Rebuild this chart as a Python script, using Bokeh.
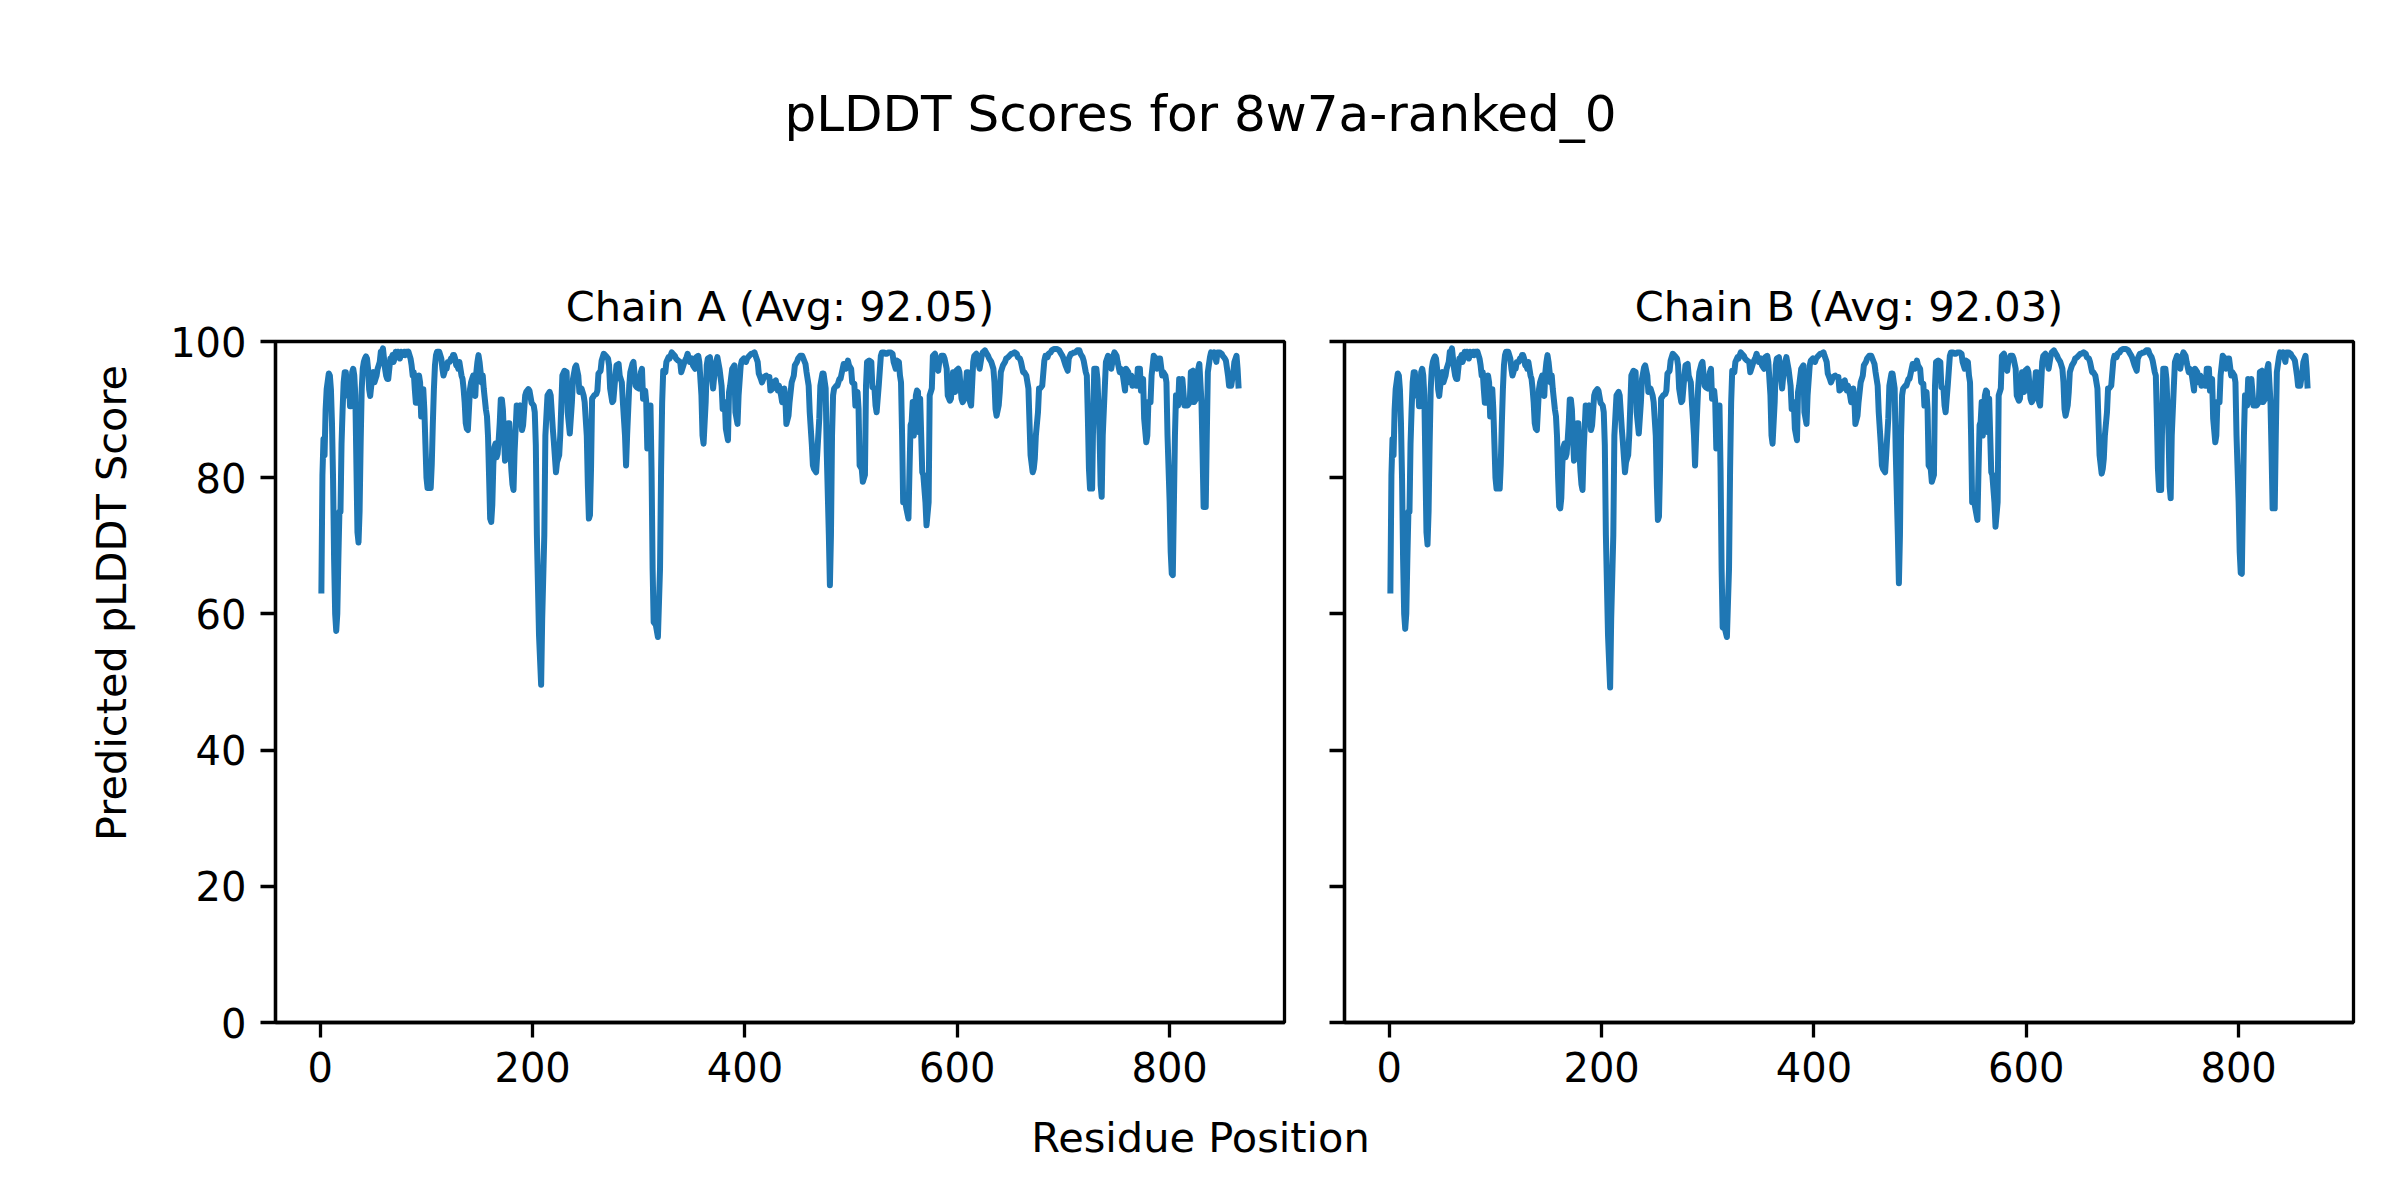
from bokeh.plotting import figure
from bokeh.models import Range1d, FixedTicker, Label, Title
from bokeh.layouts import column, row
from bokeh.embed import file_html
from bokeh.resources import INLINE

FONT = "DejaVu Sans"
BLUE = "#1f77b4"

suptitle_text = "pLDDT Scores for 8w7a-ranked_0"
x_label_text = "Residue Position"
y_label_text = "Predicted pLDDT Score"
chain_names = ["A", "B"]
chain_avgs = [92.05, 92.03]
x_ticks = [0, 200, 400, 600, 800]
y_ticks = [0, 20, 40, 60, 80, 100]

residue_pos = [
    1, 2, 3, 4, 5, 6, 8, 9, 10, 11,
    12, 13, 14, 15, 16, 17, 18, 19, 20, 21,
    22, 23, 24, 25, 26, 27, 28, 29, 30, 31,
    32, 33, 34, 35, 36, 37, 38, 39, 40, 41,
    42, 43, 44, 45, 46, 47, 48, 49, 50, 51,
    52, 53, 54, 55, 56, 57, 58, 59, 60, 61,
    62, 63, 64, 65, 66, 67, 68, 69, 70, 71,
    72, 73, 74, 75, 76, 77, 78, 79, 80, 81,
    82, 83, 84, 85, 86, 87, 88, 89, 90, 91,
    92, 93, 94, 95, 96, 97, 98, 99, 100, 101,
    102, 103, 104, 105, 106, 107, 108, 109, 110, 111,
    112, 113, 114, 115, 116, 117, 118, 119, 120, 121,
    122, 123, 124, 125, 126, 127, 128, 129, 130, 131,
    132, 133, 134, 135, 136, 137, 138, 139, 140, 141,
    142, 143, 144, 145, 146, 147, 148, 149, 150, 151,
    152, 153, 154, 155, 156, 157, 158, 159, 160, 161,
    162, 163, 164, 165, 166, 167, 168, 169, 170, 171,
    172, 173, 174, 175, 176, 177, 178, 179, 180, 181,
    182, 183, 185, 186, 188, 190, 191, 193, 194, 196,
    197, 199, 201, 202, 203, 204, 206, 208, 209, 211,
    212, 214, 216, 217, 219, 220, 222, 223, 225, 226,
    228, 230, 232, 233, 235, 237, 238, 240, 241, 243,
    244, 246, 248, 249, 251, 252, 253, 254, 255, 256,
    258, 260, 261, 262, 264, 265, 267, 269, 271, 272,
    273, 275, 276, 278, 279, 281, 282, 284, 285, 287,
    288, 289, 291, 292, 294, 295, 297, 298, 300, 302,
    303, 304, 306, 307, 308, 310, 311, 312, 313, 314,
    316, 318, 320, 321, 322, 323, 325, 326, 328, 329,
    331, 332, 334, 335, 337, 339, 340, 342, 343, 345,
    346, 348, 350, 351, 353, 354, 356, 357, 359, 360,
    361, 363, 364, 365, 367, 368, 370, 372, 374, 376,
    378, 379, 381, 382, 384, 385, 386, 388, 390, 391,
    393, 394, 396, 397, 399, 401, 402, 404, 406, 407,
    409, 410, 412, 413, 415, 416, 418, 420, 421, 423,
    424, 426, 427, 429, 431, 432, 434, 435, 437, 438,
    439, 441, 442, 444, 446, 447, 449, 450, 452, 454,
    455, 457, 458, 460, 461, 463, 464, 465, 467, 468,
    470, 471, 473, 474, 476, 477, 479, 480, 481, 482,
    483, 484, 486, 487, 489, 490, 492, 493, 495, 497,
    498, 500, 501, 503, 504, 506, 507, 508, 510, 511,
    513, 514, 515, 517, 519, 520, 522, 523, 524, 526,
    528, 529, 531, 532, 534, 535, 537, 539, 540, 542,
    543, 545, 546, 547, 548, 549, 551, 552, 554, 555,
    556, 557, 558, 559, 561, 562, 563, 564, 565, 567,
    568, 570, 571, 573, 574, 576, 577, 579, 580, 582,
    583, 585, 587, 588, 590, 591, 593, 594, 596, 598,
    599, 601, 602, 604, 605, 607, 609, 610, 612, 613,
    615, 616, 618, 619, 621, 623, 624, 626, 627, 629,
    630, 632, 634, 635, 636, 637, 639, 640, 641, 643,
    645, 646, 648, 649, 651, 652, 654, 656, 657, 659,
    660, 662, 663, 665, 667, 668, 669, 671, 672, 673,
    674, 676, 677, 678, 680, 682, 683, 685, 686, 688,
    689, 691, 693, 694, 696, 697, 699, 700, 702, 704,
    705, 707, 708, 710, 711, 713, 715, 716, 718, 719,
    721, 722, 723, 724, 725, 727, 728, 729, 731, 732,
    734, 735, 736, 737, 739, 740, 742, 743, 745, 747,
    748, 750, 751, 753, 754, 756, 758, 759, 761, 762,
    764, 765, 767, 769, 770, 772, 773, 775, 776, 778,
    779, 780, 782, 783, 785, 786, 788, 790, 791, 793,
    794, 796, 797, 798, 800, 801, 802, 803, 805, 806,
    808, 809, 811, 812, 814, 816, 817, 819, 820, 822,
    823, 825, 827, 828, 830, 831, 832, 834, 835, 836,
    838, 839, 841, 842, 844, 845, 847, 849, 850, 852,
    853, 855, 856, 858, 860, 861, 863, 864, 865,
]

chain_a_plddt = [
    63.0, 80.4, 85.7, 83.3, 90.0, 93.0, 95.3, 95.0, 93.0, 88.0,
    80.0, 68.0, 60.0, 57.5, 60.0, 68.0, 75.0, 75.0, 85.0, 90.0,
    94.0, 95.5, 95.5, 94.0, 92.0, 94.0, 90.5, 90.5, 95.5, 96.0,
    95.0, 92.0, 82.0, 72.0, 70.5, 75.0, 85.0, 93.0, 96.0, 97.0,
    97.5, 97.8, 97.5, 96.0, 93.0, 92.0, 93.5, 95.0, 95.5, 94.0,
    94.5, 95.0, 96.0, 96.5, 97.0, 98.5, 98.5, 99.0, 97.5, 96.0,
    95.0, 94.5, 94.5, 96.0, 97.5, 97.5, 98.0, 97.0, 97.5, 98.5,
    98.0, 98.5, 98.0, 97.5, 98.5, 98.0, 98.0, 98.5, 98.0, 98.5,
    98.3, 98.5, 98.0, 97.5, 96.5, 95.0, 95.5, 93.0, 91.0, 91.0,
    92.0, 95.0, 94.0, 89.0, 93.0, 93.0, 90.0, 85.0, 80.0, 78.5,
    78.5, 78.5, 78.5, 82.0, 88.0, 93.0, 96.5, 98.0, 98.5, 98.5,
    98.5, 98.0, 97.5, 96.0, 95.0, 95.5, 96.5, 96.0, 97.0, 97.0,
    97.0, 97.5, 97.5, 98.0, 98.0, 97.5, 96.5, 96.5, 96.0, 97.0,
    96.0, 95.0, 94.5, 93.0, 91.0, 88.0, 87.2, 87.0, 90.0, 93.0,
    94.0, 94.5, 95.0, 94.0, 92.0, 95.5, 97.0, 98.0, 97.0, 95.5,
    94.0, 95.0, 93.0, 91.5, 90.0, 89.0, 86.0, 80.0, 74.0, 73.5,
    76.0, 82.0, 84.5, 85.0, 83.0, 83.5, 85.5, 88.0, 91.5, 91.5,
    90.0, 86.0, 82.5, 83.0, 86.0, 88.0, 88.0, 84.0, 81.0, 79.0,
    78.2, 83.8, 90.6, 90.4, 90.6, 87.0, 87.7, 92.1, 92.6, 93.0,
    92.8, 91.0, 90.6, 89.6, 84.8, 71.6, 56.9, 49.6, 59.3, 71.6,
    86.2, 92.1, 92.6, 92.1, 87.2, 85.2, 80.8, 82.3, 83.3, 86.2,
    95.0, 95.7, 95.5, 89.6, 86.5, 91.1, 94.5, 96.2, 96.5, 95.0,
    92.6, 93.1, 92.1, 91.1, 86.2, 78.9, 74.0, 74.5, 81.3, 91.6,
    92.1, 92.3, 92.8, 95.3, 95.7, 97.2, 98.2, 97.9, 97.5, 96.5,
    93.1, 91.1, 91.3, 95.0, 96.5, 96.7, 95.0, 94.0, 91.1, 86.2,
    81.8, 86.2, 93.5, 95.5, 96.7, 97.0, 93.5, 93.3, 93.1, 95.5,
    96.0, 91.6, 92.8, 91.1, 84.3, 87.2, 90.6, 81.3, 66.7, 58.8,
    58.4, 56.6, 66.7, 81.3, 91.1, 95.7, 95.5, 97.0, 97.7, 97.5,
    98.4, 98.2, 97.9, 97.5, 97.2, 97.0, 95.5, 96.5, 97.0, 97.7,
    98.2, 97.0, 97.5, 96.5, 96.0, 97.7, 97.9, 97.0, 92.1, 86.2,
    85.0, 91.1, 96.5, 97.5, 97.7, 96.0, 93.1, 96.5, 97.7, 96.0,
    93.5, 90.1, 91.1, 87.2, 85.5, 92.6, 93.5, 96.0, 96.5, 89.6,
    87.9, 92.1, 96.5, 97.2, 97.5, 97.0, 97.5, 97.9, 98.2, 98.2,
    98.4, 97.9, 97.0, 95.3, 94.5, 94.0, 94.8, 95.0, 94.8, 94.8,
    92.8, 93.1, 94.0, 94.3, 92.8, 93.5, 92.1, 91.1, 93.1, 91.6,
    87.9, 89.1, 91.1, 94.0, 95.0, 96.5, 97.0, 97.5, 97.9, 97.9,
    97.5, 96.7, 95.5, 93.5, 89.6, 84.8, 81.8, 81.3, 80.8, 83.3,
    88.7, 93.5, 95.3, 95.3, 93.1, 83.8, 71.6, 64.2, 71.6, 86.2,
    92.1, 93.1, 93.5, 93.5, 94.5, 94.5, 96.0, 96.7, 96.0, 97.2,
    96.5, 96.0, 94.0, 93.8, 90.6, 92.6, 90.1, 81.8, 81.3, 79.4,
    80.4, 93.5, 97.0, 97.2, 97.0, 93.3, 93.1, 90.6, 89.6, 93.5,
    97.9, 98.4, 98.4, 98.2, 98.2, 98.4, 98.4, 98.2, 97.0, 96.0,
    97.2, 97.0, 95.0, 94.0, 86.2, 76.4, 76.4, 75.5, 74.0, 81.3,
    87.7, 88.2, 91.1, 86.2, 92.1, 92.8, 92.6, 86.7, 91.6, 80.8,
    80.4, 76.4, 73.0, 76.4, 92.1, 93.1, 97.9, 98.2, 96.5, 95.7,
    97.0, 97.9, 97.9, 97.5, 96.0, 92.1, 91.3, 91.6, 95.5, 92.6,
    95.7, 96.0, 95.5, 91.6, 91.1, 91.6, 95.5, 95.5, 91.1, 90.6,
    97.0, 97.9, 98.2, 97.5, 96.0, 97.9, 98.4, 98.7, 98.4, 97.9,
    97.5, 97.0, 96.0, 94.0, 90.1, 89.1, 90.6, 92.6, 95.5, 96.5,
    97.0, 97.5, 97.7, 97.9, 98.2, 98.2, 98.4, 98.2, 97.7, 97.5,
    97.0, 95.5, 95.5, 95.0, 93.1, 88.2, 83.3, 80.8, 81.3, 82.8,
    86.2, 89.6, 93.1, 93.1, 93.5, 97.2, 97.9, 97.7, 98.2, 98.4,
    98.7, 98.9, 98.9, 98.9, 98.7, 98.4, 97.9, 97.5, 96.5, 95.7,
    97.5, 98.2, 98.2, 98.4, 98.4, 98.7, 98.7, 98.2, 97.7, 97.2,
    95.5, 95.0, 88.7, 81.3, 78.4, 78.4, 88.7, 96.0, 96.0, 94.5,
    86.2, 78.9, 77.2, 86.2, 93.5, 97.0, 97.9, 97.7, 96.0, 97.9,
    98.4, 97.9, 97.0, 95.5, 96.0, 95.0, 92.8, 96.0, 95.5, 94.0,
    95.0, 93.5, 94.5, 93.5, 96.0, 96.0, 92.8, 94.5, 88.7, 85.2,
    86.2, 91.1, 91.1, 95.0, 97.9, 97.7, 96.0, 97.5, 97.5, 95.0,
    95.5, 95.0, 94.0, 86.2, 76.4, 69.1, 65.9, 65.7, 86.2, 92.1,
    90.6, 94.5, 91.1, 94.5, 90.6, 90.6, 90.6, 91.1, 95.5, 95.7,
    91.1, 91.6, 96.0, 96.7, 91.1, 83.8, 75.7, 75.7, 86.2, 95.5,
    97.7, 98.4, 98.2, 98.4, 97.0, 98.4, 98.4, 98.2, 97.9, 97.5,
    97.2, 95.0, 93.5, 93.5, 95.5, 97.0, 97.9, 96.0, 93.1,
]

chain_b_plddt = [
    63.0, 80.4, 85.7, 83.3, 90.0, 93.0, 95.3, 95.0, 93.0, 88.0,
    80.0, 68.0, 60.0, 57.8, 60.0, 68.0, 75.0, 75.0, 85.0, 90.0,
    94.0, 95.5, 95.5, 94.0, 92.0, 94.0, 90.5, 90.5, 95.5, 96.0,
    95.0, 92.0, 82.0, 72.0, 70.2, 75.0, 85.0, 93.0, 96.0, 97.0,
    97.5, 97.8, 97.5, 96.0, 93.0, 92.0, 93.5, 95.0, 95.5, 94.0,
    94.5, 95.0, 96.0, 96.5, 97.0, 98.5, 98.5, 99.0, 97.5, 96.0,
    95.0, 94.5, 94.5, 96.0, 97.5, 97.5, 98.0, 97.0, 97.5, 98.5,
    98.0, 98.5, 98.0, 97.5, 98.5, 98.0, 98.0, 98.5, 98.0, 98.5,
    98.3, 98.5, 98.0, 97.5, 96.5, 95.0, 95.5, 93.0, 91.0, 91.0,
    92.0, 95.0, 94.0, 89.0, 93.0, 93.0, 90.0, 85.0, 80.0, 78.4,
    78.4, 78.4, 78.4, 82.0, 88.0, 93.0, 96.5, 98.0, 98.5, 98.5,
    98.5, 98.0, 97.5, 96.0, 95.0, 95.5, 96.5, 96.0, 97.0, 97.0,
    97.0, 97.5, 97.5, 98.0, 98.0, 97.5, 96.5, 96.5, 96.0, 97.0,
    96.0, 95.0, 94.5, 93.0, 91.0, 88.0, 87.2, 87.0, 90.0, 93.0,
    94.0, 94.5, 95.0, 94.0, 92.0, 95.5, 97.0, 98.0, 97.0, 95.5,
    94.0, 95.0, 93.0, 91.5, 90.0, 89.0, 86.0, 80.0, 75.8, 75.5,
    77.0, 82.0, 84.5, 85.0, 83.0, 83.5, 85.5, 88.0, 91.5, 91.5,
    90.0, 86.0, 82.5, 83.0, 86.0, 88.0, 88.0, 84.0, 81.0, 79.0,
    78.2, 83.8, 90.6, 90.4, 90.6, 87.0, 87.7, 92.1, 92.6, 93.0,
    92.8, 91.0, 90.6, 89.6, 84.8, 71.6, 56.9, 49.2, 59.3, 71.6,
    86.2, 92.1, 92.6, 92.1, 87.2, 85.2, 80.8, 82.3, 83.3, 86.2,
    95.0, 95.7, 95.5, 89.6, 86.5, 91.1, 94.5, 96.2, 96.5, 95.0,
    92.6, 93.1, 92.1, 91.1, 86.2, 78.9, 73.8, 74.3, 81.3, 91.6,
    92.1, 92.3, 92.8, 95.3, 95.7, 97.2, 98.2, 97.9, 97.5, 96.5,
    93.1, 91.1, 91.3, 95.0, 96.5, 96.7, 95.0, 94.0, 91.1, 86.2,
    81.8, 86.2, 93.5, 95.5, 96.7, 97.0, 93.5, 93.3, 93.1, 95.5,
    96.0, 91.6, 92.8, 91.1, 84.3, 87.2, 90.6, 81.3, 66.7, 58.0,
    57.9, 56.6, 66.7, 81.3, 91.1, 95.7, 95.5, 97.0, 97.7, 97.5,
    98.4, 98.2, 97.9, 97.5, 97.2, 97.0, 95.5, 96.5, 97.0, 97.7,
    98.2, 97.0, 97.5, 96.5, 96.0, 97.7, 97.9, 97.0, 92.1, 86.2,
    85.0, 91.1, 96.5, 97.5, 97.7, 96.0, 93.1, 96.5, 97.7, 96.0,
    93.5, 90.1, 91.1, 87.2, 85.5, 92.6, 93.5, 96.0, 96.5, 89.6,
    87.9, 92.1, 96.5, 97.2, 97.5, 97.0, 97.5, 97.9, 98.2, 98.2,
    98.4, 97.9, 97.0, 95.3, 94.5, 94.0, 94.8, 95.0, 94.8, 94.8,
    92.8, 93.1, 94.0, 94.3, 92.8, 93.5, 92.1, 91.1, 93.1, 91.6,
    87.9, 89.1, 91.1, 94.0, 95.0, 96.5, 97.0, 97.5, 97.9, 97.9,
    97.5, 96.7, 95.5, 93.5, 89.6, 84.8, 81.8, 81.3, 80.8, 83.3,
    88.7, 93.5, 95.3, 95.3, 93.1, 83.8, 71.6, 64.5, 71.6, 86.2,
    92.1, 93.1, 93.5, 93.5, 94.5, 94.5, 96.0, 96.7, 96.0, 97.2,
    96.5, 96.0, 94.0, 93.8, 90.6, 92.6, 90.1, 81.8, 81.3, 79.4,
    80.4, 93.5, 97.0, 97.2, 97.0, 93.3, 93.1, 90.6, 89.6, 93.5,
    97.9, 98.4, 98.4, 98.2, 98.2, 98.4, 98.4, 98.2, 97.0, 96.0,
    97.2, 97.0, 95.0, 94.0, 86.2, 76.4, 76.4, 75.5, 73.8, 81.3,
    87.7, 88.2, 91.1, 86.2, 92.1, 92.8, 92.6, 86.7, 91.6, 80.8,
    80.4, 76.4, 72.8, 76.4, 92.1, 93.1, 97.9, 98.2, 96.5, 95.7,
    97.0, 97.9, 97.9, 97.5, 96.0, 92.1, 91.3, 91.6, 95.5, 92.6,
    95.7, 96.0, 95.5, 91.6, 91.1, 91.6, 95.5, 95.5, 91.1, 90.6,
    97.0, 97.9, 98.2, 97.5, 96.0, 97.9, 98.4, 98.7, 98.4, 97.9,
    97.5, 97.0, 96.0, 94.0, 90.1, 89.1, 90.6, 92.6, 95.5, 96.5,
    97.0, 97.5, 97.7, 97.9, 98.2, 98.2, 98.4, 98.2, 97.7, 97.5,
    97.0, 95.5, 95.5, 95.0, 93.1, 88.2, 83.3, 80.6, 81.3, 82.8,
    86.2, 89.6, 93.1, 93.1, 93.5, 97.2, 97.9, 97.7, 98.2, 98.4,
    98.7, 98.9, 98.9, 98.9, 98.7, 98.4, 97.9, 97.5, 96.5, 95.7,
    97.5, 98.2, 98.2, 98.4, 98.4, 98.7, 98.7, 98.2, 97.7, 97.2,
    95.5, 95.0, 88.7, 81.3, 78.2, 78.2, 88.7, 96.0, 96.0, 94.5,
    86.2, 78.7, 77.0, 86.2, 93.5, 97.0, 97.9, 97.7, 96.0, 97.9,
    98.4, 97.9, 97.0, 95.5, 96.0, 95.0, 92.8, 96.0, 95.5, 94.0,
    95.0, 93.5, 94.5, 93.5, 96.0, 96.0, 92.8, 94.5, 88.7, 85.2,
    86.2, 91.1, 91.1, 95.0, 97.9, 97.7, 96.0, 97.5, 97.5, 95.0,
    95.5, 95.0, 94.0, 86.2, 76.4, 69.1, 66.0, 65.9, 86.2, 92.1,
    90.6, 94.5, 91.1, 94.5, 90.6, 90.6, 90.6, 91.1, 95.5, 95.7,
    91.1, 91.6, 96.0, 96.7, 91.1, 83.8, 75.5, 75.5, 86.2, 95.5,
    97.7, 98.4, 98.2, 98.4, 97.0, 98.4, 98.4, 98.2, 97.9, 97.5,
    97.2, 95.0, 93.5, 93.5, 95.5, 97.0, 97.9, 96.0, 93.1,
]

chain_values = [chain_a_plddt, chain_b_plddt]

X_MIN, X_MAX = -42.2, 908.2
FRAME_W = 1009
FRAME_H = 681
PANEL_TOP = 73
PANEL_BOTTOM = 85
LEFT_BORDER = 275
HEADER_H = 268
YLABEL_LEN = 481  # rendered length of the rotated y label, px
# the shared y label is centred on the whole figure (page y 600); anchor its
# start (bottom end) measured upward from the frame bottom
FRAME_BOTTOM = HEADER_H + PANEL_TOP + FRAME_H
YLABEL_OFFSET = FRAME_BOTTOM - (600 + YLABEL_LEN / 2)


def style_axis(ax):
    ax.axis_line_color = "black"
    ax.axis_line_width = 3.3
    ax.major_tick_line_color = "black"
    ax.major_tick_line_width = 3.3
    ax.major_tick_out = 15
    ax.major_tick_in = 0
    ax.minor_tick_line_color = None
    ax.major_label_text_font = FONT
    ax.major_label_text_font_size = "40px"
    ax.major_label_text_color = "black"
    ax.major_label_standoff = 14


def blank(fig):
    fig.axis.visible = False
    fig.xgrid.visible = False
    fig.ygrid.visible = False
    fig.outline_line_color = None
    fig.background_fill_color = "white"
    fig.border_fill_color = "white"


def make_panel(vals, title_text, first, border_left, border_right):
    n = min(len(residue_pos), len(vals))
    p = figure(
        frame_width=FRAME_W, frame_height=FRAME_H,
        x_range=Range1d(X_MIN, X_MAX), y_range=Range1d(0, 100),
        output_backend="svg", toolbar_location=None,
        min_border_left=border_left, min_border_right=border_right,
        min_border_top=PANEL_TOP, min_border_bottom=PANEL_BOTTOM,
        title=title_text,
    )
    p.title.align = "center"
    p.title.text_font = FONT
    p.title.text_font_size = "41.5px"
    p.title.text_font_style = "normal"
    p.title.text_color = "black"
    p.title.standoff = 22
    p.xgrid.visible = False
    p.ygrid.visible = False
    p.outline_line_color = "black"
    p.outline_line_width = 3.3
    p.outline_line_alpha = 1.0
    p.background_fill_color = "white"
    p.border_fill_color = "white"
    p.xaxis.ticker = FixedTicker(ticks=x_ticks)
    p.yaxis.ticker = FixedTicker(ticks=y_ticks)
    style_axis(p.xaxis[0])
    style_axis(p.yaxis[0])
    if first:
        ylab = Title(text=y_label_text, align="left", offset=YLABEL_OFFSET,
                     standoff=64, text_font=FONT, text_font_size="41.5px",
                     text_font_style="normal", text_color="black")
        p.add_layout(ylab, "left")
    else:
        # shared y axis: ticks only, no tick labels
        p.yaxis.major_label_overrides = {t: "" for t in y_ticks}
        p.yaxis.major_label_standoff = 0
    p.line(residue_pos[:n], vals[:n], line_color=BLUE, line_width=6,
           line_join="round")
    return p


panels = []
for i, (name, avg) in enumerate(zip(chain_names, chain_avgs)):
    title_text = f"Chain {name} (Avg: {avg:.2f})"
    if i == 0:
        panels.append(make_panel(chain_values[i], title_text, True, LEFT_BORDER, 20))
    else:
        panels.append(make_panel(chain_values[i], title_text, False, 40, 38))

TOTAL_W = 2392


def text_strip(height, text, y, size):
    s = figure(frame_width=TOTAL_W, frame_height=height,
               x_range=Range1d(0, TOTAL_W), y_range=Range1d(0, height),
               output_backend="svg", toolbar_location=None, min_border=0)
    blank(s)
    s.add_layout(Label(x=1200, y=y, text=text, text_align="center",
                       text_baseline="middle", text_font=FONT,
                       text_font_size=size, text_color="black"))
    return s


header = text_strip(HEADER_H, suptitle_text, 155, "50px")
footer = text_strip(85, x_label_text, 55, "41.5px")

layout = column(header, row(panels[0], panels[1]), footer)

open("out.html", "w").write(file_html(layout, INLINE))
